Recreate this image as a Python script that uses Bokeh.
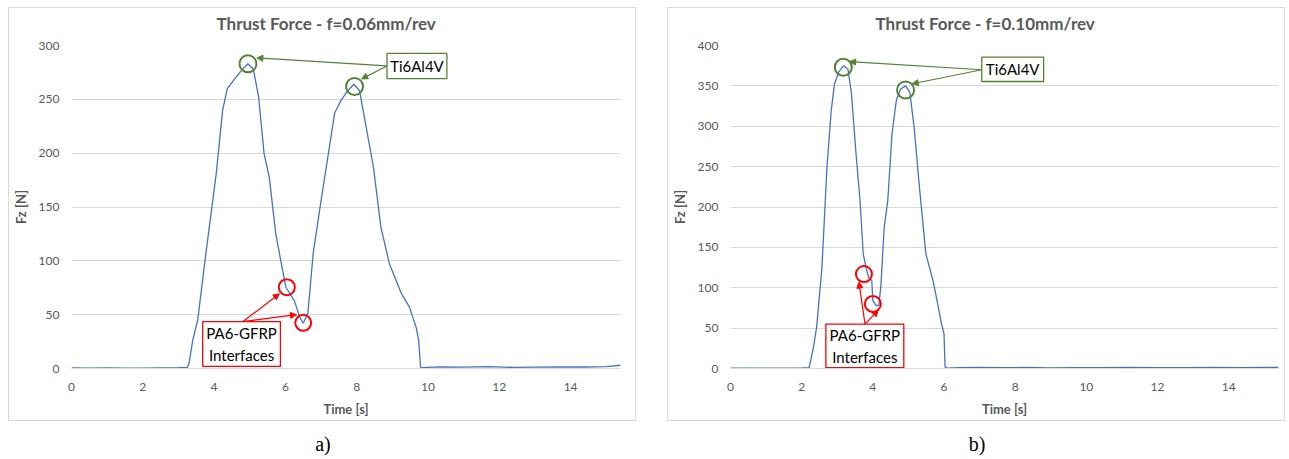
from bokeh.plotting import figure
from bokeh.models import Range1d, FixedTicker, Arrow, NormalHead, Div, Title
from bokeh.layouts import row, column
from bokeh.embed import file_html
from bokeh.resources import INLINE
from bokeh.core.properties import value

# ---------------- data ----------------
time_a = [0, 0.5, 1.0, 1.5, 2.0, 2.5, 3.0, 3.25, 3.3, 3.4, 3.54, 3.77, 4.06, 4.24,
          4.37, 4.6, 4.8, 4.95, 5.1, 5.25, 5.4, 5.55, 5.73, 5.94, 6.02, 6.25, 6.4,
          6.5, 6.63, 6.78, 7.0, 7.25, 7.38, 7.56, 7.75, 7.92, 8.08, 8.25, 8.47,
          8.68, 8.92, 9.25, 9.48, 9.67, 9.74, 9.79, 9.85, 10.3, 11.0, 11.7, 12.4,
          13.0, 13.7, 14.4, 15.0, 15.4]
force_a = [0.5, 0.4, 0.5, 0.3, 0.4, 0.6, 0.8, 1.0, 5, 26, 45, 107, 181, 240,
           260, 270, 278, 283, 278, 252, 200, 177, 125, 88, 75, 63, 48,
           42, 51, 107, 156, 209, 237, 249, 258, 264, 258, 227, 187,
           131, 97, 70, 57, 38, 26, 1, 0.8, 1.5, 1.2, 1.8, 1.0,
           1.3, 1.6, 1.4, 1.7, 3]

time_b = [0, 0.5, 1.0, 1.5, 2.0, 2.21, 2.33, 2.42, 2.57, 2.71, 2.83, 2.92, 3.04,
          3.18, 3.3, 3.4, 3.52, 3.64, 3.73, 3.81, 3.88, 3.97, 4.0, 4.09, 4.17,
          4.23, 4.32, 4.42, 4.54, 4.66, 4.78, 4.92, 5.04, 5.16, 5.3, 5.49, 5.69,
          5.84, 5.93, 6.0, 6.03, 6.1, 6.4, 7.0, 7.6, 8.3, 9.0, 9.7, 10.4, 11.2,
          12.0, 12.8, 13.5, 14.3, 15.0, 15.4]
force_b = [0.5, 0.4, 0.5, 0.4, 0.6, 1.0, 26, 51, 125, 249, 319, 352, 367,
           375, 371, 340, 270, 208, 142, 125, 113, 109, 84, 78, 78,
           105, 175, 208, 291, 332, 346, 350, 342, 299, 229, 142, 109,
           76, 55, 43, 2, 0.3, 1.2, 1.5, 1.0, 1.3, 0.8, 1.2, 1.0, 1.4,
           0.9, 1.2, 1.3, 1.0, 1.5, 1.4]

x_ticks = [0, 2, 4, 6, 8, 10, 12, 14]
y_ticks_a = [0, 50, 100, 150, 200, 250, 300]
y_ticks_b = [0, 50, 100, 150, 200, 250, 300, 350, 400]

title_a = "Thrust Force - f=0.06mm/rev"
title_b = "Thrust Force - f=0.10mm/rev"
x_title = "Time [s]"
y_title = "Fz [N]"
ti_label = "Ti6Al4V"
pa_label = "PA6-GFRP\nInterfaces"

# Highlighted points (time, force)
ti_t_a = [4.95, 7.94]
ti_f_a = [283, 262]
pa_t_a = [6.04, 6.5]
pa_f_a = [75.5, 42.4]
ti_t_b = [3.17, 4.92]
ti_f_b = [373, 345]
pa_t_b = [3.75, 4.0]
pa_f_b = [117, 80]

# ---------------- annotation geometry ----------------
ann_a = dict(
    ti_box=(8.85, 10.53, 269.3, 292.6), ti_from=(8.85, 281), ti_to=[(5.2, 288.5), (8.14, 269)],
    pa_box=(3.68, 5.86, 2, 43.6), pa_from=(4.81, 43.6), pa_to=[(5.83, 69.4), (6.31, 50)],
)
ann_b = dict(
    ti_box=(7.06, 8.8, 355.4, 385.5), ti_from=(7.06, 370), ti_to=[(3.35, 380), (5.11, 352.6)],
    pa_box=(2.68, 4.87, 1, 55), pa_from=(3.78, 55), pa_to=[(3.61, 107), (4.15, 72)],
)

FONT = "Lato"
GREY = "#595959"
GRID = "#D9D9D9"
BLUE = "#4472C4"
GREEN = "#548235"
RED = "#FF0000"


def make_panel(t, f, yticks, title, ti_t, ti_f, pa_t, pa_f, ann, width, mb_left, mb_right):
    p = figure(width=width, height=414, output_backend="svg", toolbar_location=None,
               x_range=Range1d(0, time_a[-1]), y_range=Range1d(0, yticks[-1]),
               min_border_left=mb_left, min_border_right=mb_right,
               min_border_top=37, min_border_bottom=54,
               background_fill_color="white", border_fill_color="white",
               outline_line_color=None, margin=0,
               styles={"border": "1px solid #D9D9D9"})
    p.title_location = None
    # small spacer between the chart title and the plot area
    p.add_layout(Title(text=" ", text_font_size="1px", standoff=5), "above")
    p.add_layout(Title(text=title, text_font=FONT, text_font_size="17px",
                       text_font_style="bold", text_color=GREY, align="left",
                       offset=145, vertical_align="top", standoff=4), "above")

    p.xaxis.ticker = FixedTicker(ticks=x_ticks)
    p.yaxis.ticker = FixedTicker(ticks=yticks)
    for ax in (p.xaxis, p.yaxis):
        ax.major_tick_line_color = None
        ax.minor_tick_line_color = None
        ax.major_tick_out = 0
        ax.major_tick_in = 0
        ax.minor_tick_out = 0
        ax.minor_tick_in = 0
        ax.major_label_text_font = FONT
        ax.major_label_text_font_size = "12px"
        ax.major_label_text_color = GREY
        ax.axis_label_text_font = FONT
        ax.axis_label_text_font_size = "13px"
        ax.axis_label_text_font_style = "bold"
        ax.axis_label_text_color = GREY
    p.xaxis.axis_line_color = GRID
    p.yaxis.axis_line_color = None
    p.xaxis.axis_label = x_title
    p.yaxis.axis_label = y_title
    p.xaxis.major_label_standoff = 14
    p.yaxis.major_label_standoff = 12
    p.xaxis.axis_label_standoff = 7
    p.yaxis.axis_label_standoff = 7

    p.xgrid.grid_line_color = None
    p.ygrid.grid_line_color = GRID
    p.ygrid.ticker = FixedTicker(ticks=yticks)

    p.line(t, f, line_color=BLUE, line_width=1.3)

    # annotation boxes
    for key, col, txt in (("ti_box", GREEN, ti_label), ("pa_box", RED, pa_label)):
        l, r, b, tp = ann[key]
        p.quad(left=[l], right=[r], bottom=[b], top=[tp], fill_color="white",
               line_color=col, line_width=1.3)
        p.text(x=[(l + r) / 2], y=[(b + tp) / 2], text=[txt], text_align="center",
               text_baseline="middle", text_font=value(FONT), text_font_size="15px",
               text_color="black", text_line_height=1.2)

    # arrows
    for key_from, key_to, col in (("ti_from", "ti_to", GREEN), ("pa_from", "pa_to", RED)):
        x0, y0 = ann[key_from]
        for x1, y1 in ann[key_to]:
            p.add_layout(Arrow(x_start=x0, y_start=y0, x_end=x1, y_end=y1,
                               line_color=col, line_width=1.2,
                               end=NormalHead(size=6, fill_color=col, line_color=col)))

    # circles
    p.scatter(ti_t, ti_f, marker="circle", size=17, fill_alpha=0,
              line_color=GREEN, line_width=2)
    p.scatter(pa_t, pa_f, marker="circle", size=16, fill_alpha=0,
              line_color=RED, line_width=2)
    return p


p1 = make_panel(time_a, force_a, y_ticks_a, title_a, ti_t_a, ti_f_a, pa_t_a, pa_f_a,
                ann_a, 628, 62, 17)
p2 = make_panel(time_b, force_b, y_ticks_b, title_b, ti_t_b, ti_f_b, pa_t_b, pa_f_b,
                ann_b, 618, 62, 8)


def caption(txt, w):
    return Div(text=('<div style="padding-top:15px;line-height:16px;'
                     "font-family:'Liberation Serif',serif;font-size:20px;"
                     'text-align:center;color:black;width:%dpx">%s</div>' % (w, txt)),
               width=w, height=30, margin=0)


layout = row(column(p1, caption("a)", 630), spacing=0, margin=0),
             column(p2, caption("b)", 620), spacing=0, margin=0),
             spacing=29, margin=(7, 0, 0, 8))

open("out.html", "w").write(file_html(layout, INLINE))
